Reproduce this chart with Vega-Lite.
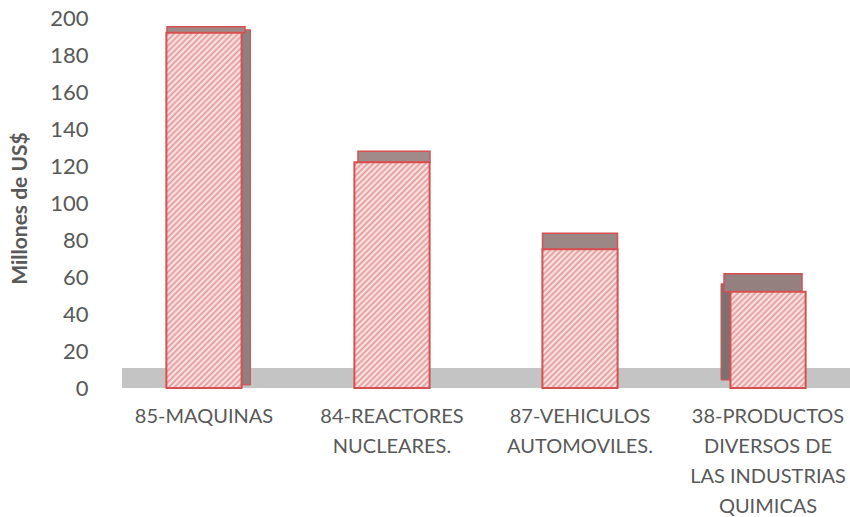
{
  "$schema": "https://vega.github.io/schema/vega-lite/v6.json",
  "width": 728,
  "height": 370,
  "autosize": "none",
  "padding": {"left": 122, "top": 18, "right": 0, "bottom": 129},
  "background": "white",
  "config": {"view": {"stroke": null}, "font": "Lato"},
  "params": [
    {
      "name": "tiras",
      "value": [
        {"offset": 0, "color": "#fcecec"}, {"offset": 0.00625, "color": "#e49a9a"}, {"offset": 0.0125, "color": "#fcecec"}, {"offset": 0.01875, "color": "#e49a9a"},
        {"offset": 0.025, "color": "#fcecec"}, {"offset": 0.03125, "color": "#e49a9a"}, {"offset": 0.0375, "color": "#fcecec"}, {"offset": 0.04375, "color": "#e49a9a"},
        {"offset": 0.05, "color": "#fcecec"}, {"offset": 0.05625, "color": "#e49a9a"}, {"offset": 0.0625, "color": "#fcecec"}, {"offset": 0.06875, "color": "#e49a9a"},
        {"offset": 0.075, "color": "#fcecec"}, {"offset": 0.08125, "color": "#e49a9a"}, {"offset": 0.0875, "color": "#fcecec"}, {"offset": 0.09375, "color": "#e49a9a"},
        {"offset": 0.1, "color": "#fcecec"}, {"offset": 0.10625, "color": "#e49a9a"}, {"offset": 0.1125, "color": "#fcecec"}, {"offset": 0.11875, "color": "#e49a9a"},
        {"offset": 0.125, "color": "#fcecec"}, {"offset": 0.13125, "color": "#e49a9a"}, {"offset": 0.1375, "color": "#fcecec"}, {"offset": 0.14375, "color": "#e49a9a"},
        {"offset": 0.15, "color": "#fcecec"}, {"offset": 0.15625, "color": "#e49a9a"}, {"offset": 0.1625, "color": "#fcecec"}, {"offset": 0.16875, "color": "#e49a9a"},
        {"offset": 0.175, "color": "#fcecec"}, {"offset": 0.18125, "color": "#e49a9a"}, {"offset": 0.1875, "color": "#fcecec"}, {"offset": 0.19375, "color": "#e49a9a"},
        {"offset": 0.2, "color": "#fcecec"}, {"offset": 0.20625, "color": "#e49a9a"}, {"offset": 0.2125, "color": "#fcecec"}, {"offset": 0.21875, "color": "#e49a9a"},
        {"offset": 0.225, "color": "#fcecec"}, {"offset": 0.23125, "color": "#e49a9a"}, {"offset": 0.2375, "color": "#fcecec"}, {"offset": 0.24375, "color": "#e49a9a"},
        {"offset": 0.25, "color": "#fcecec"}, {"offset": 0.25625, "color": "#e49a9a"}, {"offset": 0.2625, "color": "#fcecec"}, {"offset": 0.26875, "color": "#e49a9a"},
        {"offset": 0.275, "color": "#fcecec"}, {"offset": 0.28125, "color": "#e49a9a"}, {"offset": 0.2875, "color": "#fcecec"}, {"offset": 0.29375, "color": "#e49a9a"},
        {"offset": 0.3, "color": "#fcecec"}, {"offset": 0.30625, "color": "#e49a9a"}, {"offset": 0.3125, "color": "#fcecec"}, {"offset": 0.31875, "color": "#e49a9a"},
        {"offset": 0.325, "color": "#fcecec"}, {"offset": 0.33125, "color": "#e49a9a"}, {"offset": 0.3375, "color": "#fcecec"}, {"offset": 0.34375, "color": "#e49a9a"},
        {"offset": 0.35, "color": "#fcecec"}, {"offset": 0.35625, "color": "#e49a9a"}, {"offset": 0.3625, "color": "#fcecec"}, {"offset": 0.36875, "color": "#e49a9a"},
        {"offset": 0.375, "color": "#fcecec"}, {"offset": 0.38125, "color": "#e49a9a"}, {"offset": 0.3875, "color": "#fcecec"}, {"offset": 0.39375, "color": "#e49a9a"},
        {"offset": 0.4, "color": "#fcecec"}, {"offset": 0.40625, "color": "#e49a9a"}, {"offset": 0.4125, "color": "#fcecec"}, {"offset": 0.41875, "color": "#e49a9a"},
        {"offset": 0.425, "color": "#fcecec"}, {"offset": 0.43125, "color": "#e49a9a"}, {"offset": 0.4375, "color": "#fcecec"}, {"offset": 0.44375, "color": "#e49a9a"},
        {"offset": 0.45, "color": "#fcecec"}, {"offset": 0.45625, "color": "#e49a9a"}, {"offset": 0.4625, "color": "#fcecec"}, {"offset": 0.46875, "color": "#e49a9a"},
        {"offset": 0.475, "color": "#fcecec"}, {"offset": 0.48125, "color": "#e49a9a"}, {"offset": 0.4875, "color": "#fcecec"}, {"offset": 0.49375, "color": "#e49a9a"},
        {"offset": 0.5, "color": "#fcecec"}, {"offset": 0.50625, "color": "#e49a9a"}, {"offset": 0.5125, "color": "#fcecec"}, {"offset": 0.51875, "color": "#e49a9a"},
        {"offset": 0.525, "color": "#fcecec"}, {"offset": 0.53125, "color": "#e49a9a"}, {"offset": 0.5375, "color": "#fcecec"}, {"offset": 0.54375, "color": "#e49a9a"},
        {"offset": 0.55, "color": "#fcecec"}, {"offset": 0.55625, "color": "#e49a9a"}, {"offset": 0.5625, "color": "#fcecec"}, {"offset": 0.56875, "color": "#e49a9a"},
        {"offset": 0.575, "color": "#fcecec"}, {"offset": 0.58125, "color": "#e49a9a"}, {"offset": 0.5875, "color": "#fcecec"}, {"offset": 0.59375, "color": "#e49a9a"},
        {"offset": 0.6, "color": "#fcecec"}, {"offset": 0.60625, "color": "#e49a9a"}, {"offset": 0.6125, "color": "#fcecec"}, {"offset": 0.61875, "color": "#e49a9a"},
        {"offset": 0.625, "color": "#fcecec"}, {"offset": 0.63125, "color": "#e49a9a"}, {"offset": 0.6375, "color": "#fcecec"}, {"offset": 0.64375, "color": "#e49a9a"},
        {"offset": 0.65, "color": "#fcecec"}, {"offset": 0.65625, "color": "#e49a9a"}, {"offset": 0.6625, "color": "#fcecec"}, {"offset": 0.66875, "color": "#e49a9a"},
        {"offset": 0.675, "color": "#fcecec"}, {"offset": 0.68125, "color": "#e49a9a"}, {"offset": 0.6875, "color": "#fcecec"}, {"offset": 0.69375, "color": "#e49a9a"},
        {"offset": 0.7, "color": "#fcecec"}, {"offset": 0.70625, "color": "#e49a9a"}, {"offset": 0.7125, "color": "#fcecec"}, {"offset": 0.71875, "color": "#e49a9a"},
        {"offset": 0.725, "color": "#fcecec"}, {"offset": 0.73125, "color": "#e49a9a"}, {"offset": 0.7375, "color": "#fcecec"}, {"offset": 0.74375, "color": "#e49a9a"},
        {"offset": 0.75, "color": "#fcecec"}, {"offset": 0.75625, "color": "#e49a9a"}, {"offset": 0.7625, "color": "#fcecec"}, {"offset": 0.76875, "color": "#e49a9a"},
        {"offset": 0.775, "color": "#fcecec"}, {"offset": 0.78125, "color": "#e49a9a"}, {"offset": 0.7875, "color": "#fcecec"}, {"offset": 0.79375, "color": "#e49a9a"},
        {"offset": 0.8, "color": "#fcecec"}, {"offset": 0.80625, "color": "#e49a9a"}, {"offset": 0.8125, "color": "#fcecec"}, {"offset": 0.81875, "color": "#e49a9a"},
        {"offset": 0.825, "color": "#fcecec"}, {"offset": 0.83125, "color": "#e49a9a"}, {"offset": 0.8375, "color": "#fcecec"}, {"offset": 0.84375, "color": "#e49a9a"},
        {"offset": 0.85, "color": "#fcecec"}, {"offset": 0.85625, "color": "#e49a9a"}, {"offset": 0.8625, "color": "#fcecec"}, {"offset": 0.86875, "color": "#e49a9a"},
        {"offset": 0.875, "color": "#fcecec"}, {"offset": 0.88125, "color": "#e49a9a"}, {"offset": 0.8875, "color": "#fcecec"}, {"offset": 0.89375, "color": "#e49a9a"},
        {"offset": 0.9, "color": "#fcecec"}, {"offset": 0.90625, "color": "#e49a9a"}, {"offset": 0.9125, "color": "#fcecec"}, {"offset": 0.91875, "color": "#e49a9a"},
        {"offset": 0.925, "color": "#fcecec"}, {"offset": 0.93125, "color": "#e49a9a"}, {"offset": 0.9375, "color": "#fcecec"}, {"offset": 0.94375, "color": "#e49a9a"},
        {"offset": 0.95, "color": "#fcecec"}, {"offset": 0.95625, "color": "#e49a9a"}, {"offset": 0.9625, "color": "#fcecec"}, {"offset": 0.96875, "color": "#e49a9a"},
        {"offset": 0.975, "color": "#fcecec"}, {"offset": 0.98125, "color": "#e49a9a"}, {"offset": 0.9875, "color": "#fcecec"}, {"offset": 0.99375, "color": "#e49a9a"},
        {"offset": 1, "color": "#fcecec"}
      ]
    }
  ],
  "data": {
    "values": [
      {"capitulo": "85-MAQUINAS", "millones": 192},
      {"capitulo": "84-REACTORES\nNUCLEARES.", "millones": 122},
      {"capitulo": "87-VEHICULOS\nAUTOMOVILES.", "millones": 75},
      {"capitulo": "38-PRODUCTOS\nDIVERSOS DE\nLAS INDUSTRIAS\nQUIMICAS", "millones": 52}
    ]
  },
  "encoding": {
    "x": {
      "field": "capitulo",
      "type": "nominal",
      "sort": [
        "85-MAQUINAS",
        "84-REACTORES\nNUCLEARES.",
        "87-VEHICULOS\nAUTOMOVILES.",
        "38-PRODUCTOS\nDIVERSOS DE\nLAS INDUSTRIAS\nQUIMICAS"
      ],
      "scale": {"paddingInner": 0.6, "paddingOuter": 0.236},
      "axis": {
        "title": null,
        "domain": false,
        "ticks": false,
        "labelAngle": 0,
        "labelFontSize": 20,
        "labelColor": "#595959",
        "labelPadding": 18,
        "labelLineHeight": 30,
        "labelLimit": 300,
        "labelExpr": "split(datum.value, '\\n')"
      }
    },
    "y": {
      "field": "millones",
      "type": "quantitative",
      "scale": {"domain": [0, 200], "nice": false},
      "axis": {
        "title": "Millones de US$",
        "titleFontSize": 21,
        "titleFontWeight": "bold",
        "titleColor": "#595959",
        "titleX": -92,
        "titleY": 190,
        "domain": false,
        "ticks": false,
        "grid": false,
        "values": [0, 20, 40, 60, 80, 100, 120, 140, 160, 180, 200],
        "labelFontSize": 22,
        "labelColor": "#595959",
        "labelPadding": 34
      }
    }
  },
  "layer": [
    {
      "data": {"values": [{"desde": 0, "hasta": 10.8}]},
      "mark": {"type": "rect", "fill": "#c4c4c4"},
      "encoding": {
        "x": null,
        "y": {"field": "desde", "type": "quantitative"},
        "y2": {"field": "hasta"}
      }
    },
    {
      "transform": [{"filter": "indexof(datum.capitulo, '85-') == 0"}],
      "mark": {"type": "bar", "width": 9, "xOffset": 42, "yOffset": -3, "fill": "#8f7f7f", "stroke": "#d65050", "strokeWidth": 1}
    },
    {
      "transform": [{"filter": "indexof(datum.capitulo, '38-') == 0"}],
      "mark": {"type": "bar", "width": 10, "xOffset": -42, "yOffset": -8, "fill": "#7f7070", "stroke": "#d65050", "strokeWidth": 1}
    },
    {
      "transform": [{"filter": "indexof(datum.capitulo, '85-') == 0"}],
      "mark": {"type": "tick", "orient": "horizontal", "thickness": 6, "size": 78, "xOffset": 2, "yOffset": -3, "fill": "#a08a8a", "stroke": "#d65050", "strokeWidth": 1.5, "opacity": 1}
    },
    {
      "transform": [{"filter": "indexof(datum.capitulo, '84-') == 0"}],
      "mark": {"type": "tick", "orient": "horizontal", "thickness": 11, "size": 72, "xOffset": 2, "yOffset": -5.5, "fill": "#a08a8a", "stroke": "#d65050", "strokeWidth": 1.5, "opacity": 1}
    },
    {
      "transform": [{"filter": "indexof(datum.capitulo, '87-') == 0"}],
      "mark": {"type": "tick", "orient": "horizontal", "thickness": 16, "size": 75, "yOffset": -8, "fill": "#9c8686", "stroke": "#d65050", "strokeWidth": 1.5, "opacity": 1}
    },
    {
      "transform": [{"filter": "indexof(datum.capitulo, '38-') == 0"}],
      "mark": {"type": "tick", "orient": "horizontal", "thickness": 18, "size": 78, "xOffset": -5, "yOffset": -9, "fill": "#958080", "stroke": "#d65050", "strokeWidth": 1.5, "opacity": 1}
    },
    {
      "transform": [{"filter": "indexof(datum.capitulo, '85-') == 0"}],
      "mark": {"type": "bar", "stroke": "#d65050", "strokeWidth": 2,
        "fill": {"expr": "{gradient: 'linear', x1: 0, y1: 0, x2: 0.2647, y2: 1.25027, stops: tiras}"}}
    },
    {
      "transform": [{"filter": "indexof(datum.capitulo, '84-') == 0"}],
      "mark": {"type": "bar", "stroke": "#d65050", "strokeWidth": 2,
        "fill": {"expr": "{gradient: 'linear', x1: 0, y1: 0, x2: 0.61653, y2: 1.85041, stops: tiras}"}}
    },
    {
      "transform": [{"filter": "indexof(datum.capitulo, '87-') == 0"}],
      "mark": {"type": "bar", "stroke": "#d65050", "strokeWidth": 2,
        "fill": {"expr": "{gradient: 'linear', x1: 0, y1: 0, x2: 1.40095, y2: 2.58486, stops: tiras}"}}
    },
    {
      "transform": [{"filter": "indexof(datum.capitulo, '38-') == 0"}],
      "mark": {"type": "bar", "stroke": "#d65050", "strokeWidth": 2,
        "fill": {"expr": "{gradient: 'linear', x1: 0, y1: 0, x2: 2.34031, y2: 2.99385, stops: tiras}"}}
    }
  ]
}
